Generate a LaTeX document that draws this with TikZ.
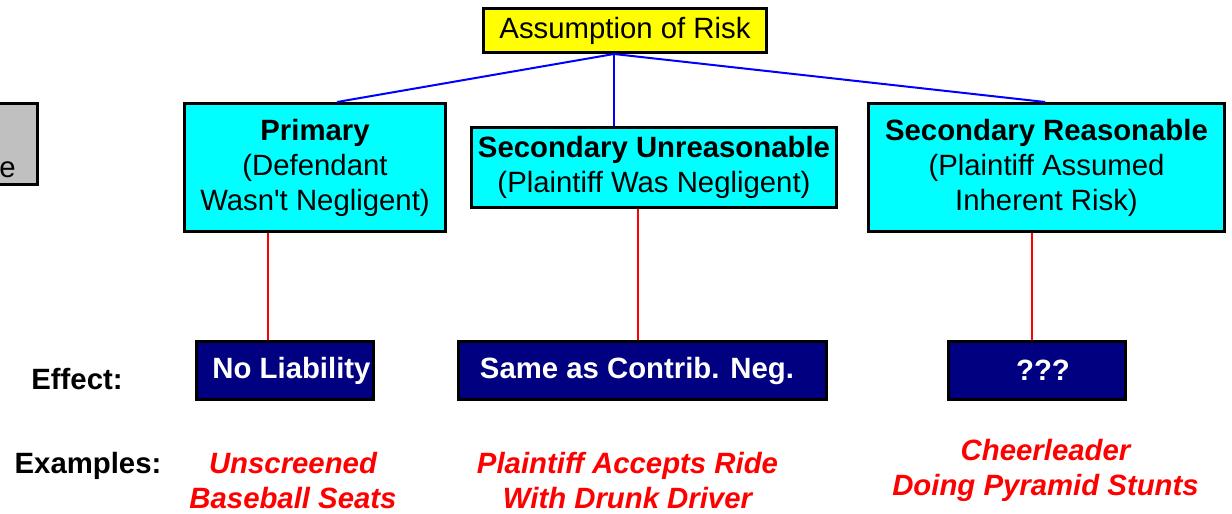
\documentclass[tikz,border=0pt]{standalone}
\usepackage{fontspec}
\setmainfont{Liberation Sans}
\usetikzlibrary{positioning, calc}

\definecolor{riskyellow}{HTML}{FFFF00}
\definecolor{typecyan}{HTML}{00FFFF}
\definecolor{effectnavy}{HTML}{000080}
\definecolor{sidegray}{HTML}{C0C0C0}
\definecolor{treeblue}{HTML}{0000FF}
\definecolor{exred}{HTML}{FF0000}

\tikzset{
	riskbox/.style={draw=black, line width=2.25pt, fill=riskyellow, inner sep=0pt, font=\fontsize{22}{26}\selectfont},
	typebox/.style={draw=black, line width=2.25pt, fill=typecyan, inner sep=0pt, align=center, font=\fontsize{22}{26.25}\selectfont},
	effectbox/.style={draw=black, line width=2.25pt, fill=effectnavy, text=white, inner sep=0pt, font=\fontsize{22}{26}\selectfont\bfseries, minimum height=43.5pt},
	rowlabel/.style={anchor=base, font=\fontsize{22}{26}\selectfont\bfseries},
	exampletext/.style={text=exred, align=center, inner sep=0pt, font=\fontsize{22}{26.25}\selectfont\bfseries\itshape},
	treeline/.style={draw=treeblue, line width=1.5pt},
	effline/.style={draw=exred, line width=1.5pt}
}

\begin{document}
\begin{tikzpicture}[x=0.75pt, y=-0.75pt]
		\clip (0, 0) rectangle (1232, 514);
		
		% box cut off at the left edge
		\node[draw=black, line width=2.25pt, fill=sidegray, minimum width=45pt, minimum height=60.75pt, anchor=east] (side) at (38.5, 144) {};
		\node[anchor=base east, inner sep=0pt, font=\fontsize{22}{26}\selectfont] (sidetext) at (16, 177) {e};
		
		\node[riskbox, minimum width=212.25pt, minimum height=33pt] (risk) at (625, 30.5) {Assumption of Risk};
		
		\node[typebox, minimum width=195.75pt, minimum height=96pt] (prim) at (315, 167.5)
			{\textbf{Primary}\\(Defendant\\Wasn\textquotesingle t Negligent)};
		\node[typebox, minimum width=273.75pt, minimum height=60pt] (secu) at (654, 167.5)
			{\textbf{Secondary Unreasonable}\\(Plaintiff Was Negligent)};
		\node[typebox, minimum width=267pt, minimum height=96pt] (secr) at (1046.5, 167.5)
			{\textbf{Secondary Reasonable}\\(Plaintiff Assumed\\Inherent Risk)};
		
		\draw[treeline] ([xshift=-8.25pt]risk.south) -- ([xshift=16.5pt]prim.north);
		\draw[treeline] ([xshift=-8.25pt]risk.south) -- ([xshift=-30pt]secu.north);
		\draw[treeline] ([xshift=-8.25pt]risk.south) -- ([xshift=-1pt]secr.north);
		
		\node[effectbox, minimum width=132.75pt] (noliab) at (285, 370.5) {\hspace*{9.75pt}No Liability};
		\node[effectbox, minimum width=276pt] (same) at (642.5, 370.5) {Same as Contrib. Neg.\hspace*{8.25pt}};
		\node[effectbox, minimum width=132.75pt] (unknown) at (1037, 370.5) {\hspace*{9pt}???};
		
		\draw[effline] ([xshift=-35.25pt]prim.south) coordinate (pa) -- (pa |- noliab.north);
		\draw[effline] ([xshift=-12pt]secu.south) coordinate (sa) -- (sa |- same.north);
		\draw[effline] ([xshift=-10.875pt]secr.south) coordinate (ra) -- (ra |- unknown.north);
		
		\node[rowlabel] (effect) at (77, 389) {Effect:};
		\node[rowlabel] (examples) at (88, 473) {Examples:};
		
		\node[exampletext] (exprim) at (293, 481) {Unscreened\\Baseball Seats};
		\node[exampletext] (exsecu) at (627.5, 481) {Plaintiff Accepts Ride\\With Drunk Driver};
		\node[exampletext] (exsecr) at (1045.5, 470) {Cheerleader\\Doing Pyramid Stunts};
	\end{tikzpicture}
\end{document}
